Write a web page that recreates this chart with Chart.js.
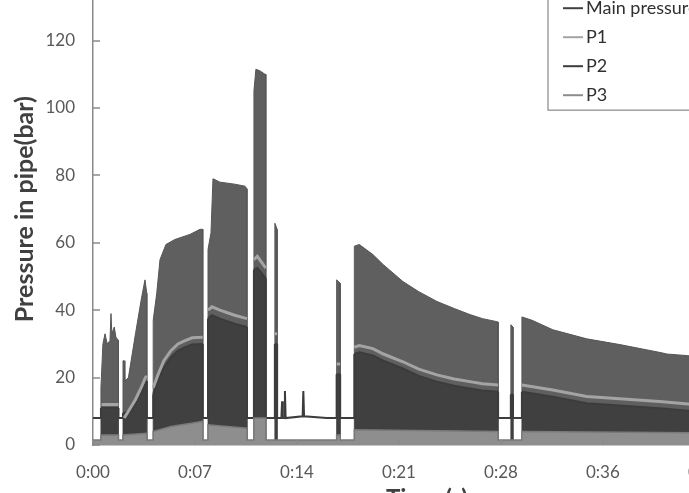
<!DOCTYPE html>
<html>
<head>
<meta charset="utf-8">
<script src="https://cdn.jsdelivr.net/npm/chart.js@4"></script>
<style>
  html, body { margin: 0; padding: 0; background: #fff; overflow: hidden; }
  body { width: 689px; height: 493px; position: relative; }
  #wrap { position: absolute; left: 0; top: -55px; width: 771px; height: 570px; }
</style>
</head>
<body>
<div id="wrap"><canvas id="chart" width="771" height="570"></canvas></div>
<script>
// ── Data (time in minutes, pressure in bar) ───────────────
const xTickVals   = [0, 7.2, 14.4, 21.6, 28.8, 36, 43.2];
const xTickLabels = ['0:00', '0:07', '0:14', '0:21', '0:28', '0:36', '0:43'];

// top of the pumping strokes, null = pump idle
const mainT = [0.56,0.56,0.7,0.85,1.0,1.2,1.27,1.33,1.5,1.62,1.8,1.8, 2.0,
  2.12,2.12,2.2,2.25,2.5,3.0,3.4,3.67,3.8,3.8, 4.0,
  4.25,4.25,4.5,4.73,5.15,5.79,6.85,7.55,7.75,7.75, 7.9,
  8.12,8.12,8.33,8.47,8.96,10.0,10.73,10.87,10.87, 11.1,
  11.36,11.36,11.5,11.8,12.14,12.2,12.2, 12.5,
  12.84,12.84,13.0,13.0, 15,
  17.2,17.2,17.45,17.45, 18,
  18.45,18.45,18.8,19.76,20.5,21.88,23,24.28,25.5,26.61,27.5,28.51,28.6,28.6, 29,
  29.5,29.5,29.65,29.65, 30,
  30.28,30.28,31,32.46,34.86,37.19,40.22,40.51,42,44,46.5,47.16];
const mainV = [0,17,30,33,30,31,39,33,35,32,31,0, null,
  0,25,25,19,20,33,43,49,45,0, null,
  0,37,45,55,59.5,61,62.5,64,64,0, null,
  0,58,63,79,78,77.4,76.8,76,0, null,
  0,105,111.5,111,110,110,0, null,
  0,65.8,64,0, null,
  0,49,48,0, null,
  0,59,59.5,56.5,53.5,48.5,45.5,42.6,40.5,38.7,37.5,36.6,36.5,0, null,
  0,35.7,35,0, null,
  0,38,37,34.2,31.5,29.8,27.3,27,26.5,25.5,24.5,24.2];

const p1T = [0.6,1.8, 2.0, 2.2,2.5,3.0,3.4,3.7,3.8, 4.0,
  4.25,4.6,5.0,5.5,6.0,6.5,7.0,7.75, 7.9,
  8.12,8.4,8.96,10.0,10.87, 11.1,
  11.36,11.6,12.2, 12.5,
  12.84,13.0, 15,
  17.2,17.45, 18,
  18.45,18.8,19.76,20.5,21.88,23,24.28,25.5,26.61,27.5,28.6, 29,
  30.28,32.46,34.86,37.19,40.22,42,44,47.16];
const p1V = [12,12, null, 8,10,13.5,17,20,20.5, null,
  17,21,25,28,30,31,31.8,32, null,
  40,41,40,38.5,37.5, null,
  55,56,52.5, null,
  33,33, null,
  24,24, null,
  29,29.5,28.6,27,24.7,22.5,20.8,19.6,18.8,18.2,17.8, null,
  17.8,16.3,14.4,13.7,12.8,12.2,11.7,11.2];

const p2T = [0,0.56,0.56,1.8,1.8,
  2.12,2.12,2.6,3.0,3.4,3.8,3.8,
  4.25,4.25,4.6,5.0,5.5,6.0,6.5,7.0,7.75,7.75,
  8.12,8.12,8.4,8.96,10.0,10.87,10.87,
  11.36,11.36,11.6,12.2,12.2,
  12.84,12.84,13.0,13.0,
  13.3,13.35,13.4,13.5,13.55,13.6,
  14.8,14.85,14.9,16.5,17.2,17.2,17.45,17.45,
  18.45,18.45,18.8,19.76,20.5,21.88,23,24.28,25.5,26.61,27.5,28.6,28.6,
  29.5,29.5,29.65,29.65,
  30.28,30.28,32.46,34.86,37.19,40.22,42,44,47.16];
const p2V = [8,8,11,11,8,
  8,9.5,10,12,15.5,19,8,
  8,15,19,23,26,28,29,29.8,30,8,
  8,37.5,38.5,37.5,36,35,8,
  8,52,52.5,49.5,8,
  8,30,30,8,
  8,13,8,8,16,8,
  8.5,16,8.5,8,8,21,21,8,
  8,27,27.5,26.6,25,22.7,20.5,18.8,17.6,16.8,16.2,15.8,8,
  8,15,15,8,
  8,15.8,14.3,12.4,11.7,10.8,10.2,9.7,9.2];

const p3T = [0,0.56,0.56,1.8,1.8,2.12,2.12,3.8,3.8,4.25,4.25,5.5,7.75,7.75,
  8.12,8.12,10.87,10.87,11.36,11.36,12.2,12.2,17.2,17.2,17.45,17.45,
  18.45,18.45,28.6,28.6,30.28,30.28,47.16];
const p3V = [1.5,1.5,3,3,1.5,1.5,3,3.5,1.5,1.5,4,5.5,7,1.5,
  1.5,6,5,1.5,1.5,8,8,1.5,1.5,3,3,1.5,
  1.5,4.5,4,1.5,1.5,4,3.5];

// ── Styling ───────────────────────────────────────────────
const AXIS = '#8a8a8a';
const TEXT = '#595959';
Chart.defaults.font.family = 'Lato';

const pts = (ts, vs) => ts.map((t, i) => ({ x: t, y: vs[i] }));

// ── Plugins ───────────────────────────────────────────────
const innerTicks = {
  id: 'innerTicks',
  afterDraw(chart) {
    const { ctx, chartArea: a, scales: { x, y } } = chart;
    ctx.save();
    ctx.strokeStyle = AXIS;
    ctx.lineWidth = 1.5;
    ctx.beginPath();
    y.ticks.forEach(t => {
      const py = Math.round(y.getPixelForValue(t.value));
      ctx.moveTo(a.left, py); ctx.lineTo(a.left + 7, py);
    });
    x.ticks.forEach(t => {
      const px = Math.round(x.getPixelForValue(t.value));
      ctx.moveTo(px, a.bottom); ctx.lineTo(px, a.bottom - 5);
    });
    ctx.stroke();
    ctx.restore();
  }
};

const boxLegend = {
  id: 'boxLegend',
  afterDraw(chart) {
    const { ctx, chartArea: a } = chart;
    const left = a.left + 455, top = a.top + 20, bottom = a.top + 137;
    ctx.save();
    ctx.fillStyle = '#fff';
    ctx.fillRect(left, top, 300, bottom - top);
    ctx.strokeStyle = '#a0a0a0';
    ctx.lineWidth = 1.5;
    ctx.strokeRect(left, top, 300, bottom - top);
    ctx.font = '18px Lato';
    ctx.textBaseline = 'middle';
    chart.data.datasets.forEach((ds, i) => {
      const yy = a.top + 35 + i * 29;
      ctx.strokeStyle = ds.legendColor;
      ctx.lineWidth = 2;
      ctx.beginPath();
      ctx.moveTo(left + 15, yy); ctx.lineTo(left + 35, yy);
      ctx.stroke();
      ctx.fillStyle = '#303030';
      ctx.fillText(ds.label, left + 38, yy);
    });
    ctx.restore();
  }
};

// ── Chart ─────────────────────────────────────────────────
new Chart(document.getElementById('chart'), {
  type: 'line',
  data: {
    datasets: [
      {
        label: 'Main pressure',
        data: pts(mainT, mainV),
        borderColor: '#565656', borderWidth: 1,
        backgroundColor: '#5f5f5f', fill: 'origin',
        legendColor: '#404040', order: 4
      },
      {
        label: 'P1',
        data: pts(p1T, p1V),
        borderColor: '#a4a4a4', borderWidth: 3,
        fill: false, legendColor: '#a4a4a4', order: 1
      },
      {
        label: 'P2',
        data: pts(p2T, p2V),
        borderColor: '#3c3c3c', borderWidth: 2,
        backgroundColor: '#404040', fill: 'origin',
        segment: {
          backgroundColor: c => (c.p0.parsed.y > 9 && c.p1.parsed.y > 9) ? '#404040' : 'rgba(0,0,0,0)'
        },
        legendColor: '#3c3c3c', order: 3
      },
      {
        label: 'P3',
        data: pts(p3T, p3V),
        borderColor: '#7a7a7a', borderWidth: 1.5,
        backgroundColor: '#8e8e8e', fill: 'origin',
        legendColor: '#8c8c8c', order: 2
      }
    ]
  },
  options: {
    responsive: false,
    animation: false,
    devicePixelRatio: 1,
    spanGaps: false,
    elements: { point: { radius: 0 }, line: { tension: 0 } },
    layout: { padding: { top: 10, right: 10, left: 0, bottom: 0 } },
    plugins: { legend: { display: false }, tooltip: { enabled: false } },
    scales: {
      x: {
        type: 'linear', min: 0, max: 47.16,
        afterBuildTicks: s => { s.ticks = xTickVals.map(v => ({ value: v })); },
        afterFit: s => { s.height = 70; },
        grid: { display: false, drawTicks: false },
        border: { color: AXIS, width: 1.5 },
        ticks: {
          callback: (v, i) => xTickLabels[i],
          color: TEXT, font: { size: 17 }, padding: 17, maxRotation: 0, autoSkip: false
        },
        title: {
          display: true, text: 'Time (s)', color: '#404040',
          font: { size: 24, weight: 'bold' }, padding: { top: 0, bottom: 1 }
        }
      },
      y: {
        min: 0, max: 140,
        afterFit: s => { s.width = 93; },
        grid: { display: false, drawTicks: false },
        border: { color: AXIS, width: 1.5 },
        ticks: { stepSize: 20, color: TEXT, font: { size: 17 }, padding: 18 },
        title: {
          display: true, text: 'Pressure in pipe(bar)', color: '#404040',
          font: { size: 25, weight: 'bold' }, padding: { top: 10, bottom: 0 }
        }
      }
    }
  },
  plugins: [innerTicks, boxLegend]
});
</script>
</body>
</html>
